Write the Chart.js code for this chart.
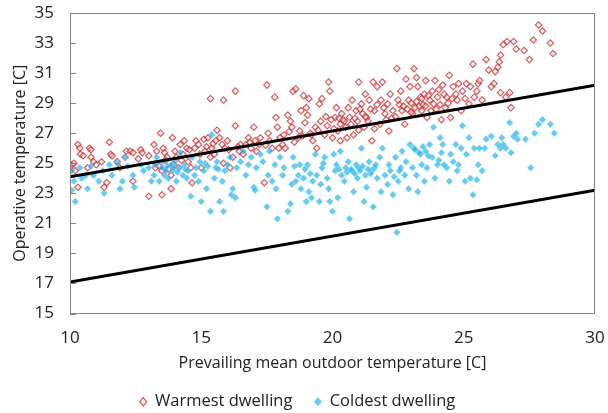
<!DOCTYPE html>
<html>
<head>
<meta charset="utf-8">
<script src="https://cdn.jsdelivr.net/npm/chart.js@4.4.1/dist/chart.umd.min.js"></script>
<style>
  html, body { margin: 0; padding: 0; background: #fff; }
  #wrap { width: 608px; height: 413px; }
</style>
</head>
<body>
<div id="wrap"><canvas id="c"></canvas></div>
<script>
// warmest dwelling: [outdoor, operative]
const warmest = [
  [10.07,24.9],[10.15,25.0],[10.0,24.7],[10.2,24.5],[10.3,26.25],[10.37,26.0],[10.4,25.6],[10.5,25.5],
  [10.3,23.4],[10.67,24.7],[10.74,26.0],[10.8,25.9],[10.8,25.4],[10.9,25.1],[11.0,24.9],[11.2,25.1],
  [11.3,23.4],[11.4,23.7],[11.5,26.4],[11.55,25.6],[11.6,25.5],[11.8,25.1],[11.9,24.7],[12.1,25.4],
  [12.15,25.8],[12.3,25.8],[12.4,25.7],[12.4,23.8],[12.6,25.3],[12.7,25.9],[12.75,25.7],[13.0,25.5],
  [13.0,22.8],[13.2,26.25],[13.25,24.7],[13.3,25.8],[13.4,24.8],[13.45,27.0],[13.5,24.5],[13.5,22.9],
  [13.55,26.0],[13.6,25.7],[13.7,25.4],[13.75,24.6],[13.85,24.2],[13.85,23.3],[13.9,26.7],[14.0,25.8],
  [14.05,25.4],[14.15,24.7],[14.2,26.25],[14.3,25.6],[14.35,26.5],[14.45,26.0],[14.5,25.1],[14.6,24.7],
  [14.65,23.7],[14.75,26.0],[14.8,26.5],[14.9,26.25],[14.95,25.6],[15.0,24.7],[15.1,26.6],[15.2,26.1],
  [15.25,26.7],[15.35,29.3],[15.35,25.4],[15.4,26.0],[15.5,25.6],[15.55,26.5],[15.6,27.2],[15.7,26.7],
  [15.8,26.25],[15.85,29.2],[15.85,25.0],[15.9,26.0],[16.0,26.5],[16.1,24.7],[16.2,25.4],[16.3,29.8],
  [16.3,27.5],[16.45,25.8],[16.5,26.25],[16.6,25.6],[16.7,26.25],[16.8,26.7],[16.9,26.0],[17.0,27.4],
  [17.05,26.5],[17.1,25.8],[17.2,26.25],[17.25,26.7],[17.4,23.7],[17.5,30.2],[17.55,27.0],[17.6,26.5],
  [17.7,26.0],[17.8,29.4],[17.85,28.05],[17.9,27.4],[18.0,26.7],[18.1,26.25],[18.15,26.9],[18.2,26.0],
  [18.3,28.2],[18.4,27.8],[18.45,27.4],[18.5,29.8],[18.6,29.95],[18.7,26.7],[18.75,27.15],[18.8,28.5],
  [18.9,29.5],[19.0,28.7],[19.05,28.2],[19.1,29.3],[19.2,26.9],[19.25,26.5],[19.35,27.4],[19.4,26.0],
  [19.5,28.95],[19.55,27.8],[19.6,29.3],[19.7,26.9],[19.8,27.5],[19.85,30.4],[19.9,29.8],[20.0,26.7],
  [20.1,28.05],[20.15,28.7],[20.2,27.15],[20.3,26.5],[20.35,28.3],[20.45,27.8],[20.5,27.4],[20.6,28.7],
  [20.65,28.05],[20.75,29.2],[20.8,26.9],[20.9,28.5],[20.95,27.8],[21.0,30.4],[21.1,28.95],[21.2,27.4],
  [21.25,29.6],[21.3,28.05],[21.4,29.2],[21.5,26.5],[21.55,30.4],[21.6,28.5],[21.7,30.1],[21.8,27.6],
  [21.85,29.2],[21.9,30.4],[22.0,28.3],[22.1,28.95],[22.15,27.15],[22.2,29.6],[22.3,28.5],[22.45,31.3],
  [22.5,29.2],[22.6,29.8],[22.65,28.5],[22.75,27.6],[22.8,30.6],[22.9,29.2],[22.95,30.1],[23.05,28.3],
  [23.1,31.3],[23.15,28.7],[23.2,30.7],[23.25,30.1],[23.35,29.4],[23.4,28.5],[23.5,29.6],[23.55,30.5],
  [23.6,28.05],[23.7,29.2],[23.8,29.8],[23.85,28.95],[23.9,30.5],[24.0,29.4],[24.15,27.9],[24.2,30.2],
  [24.3,28.7],[24.35,29.4],[24.45,30.85],[24.5,28.05],[24.6,30.1],[24.7,29.6],[24.75,29.2],[24.8,30.3],
  [24.9,28.5],[24.95,29.8],[25.05,29.3],[25.1,30.3],[25.2,28.95],[25.25,30.1],[25.35,31.6],[25.4,29.4],
  [25.5,29.8],[25.55,30.3],[25.6,30.5],[25.7,29.2],[25.85,31.9],[25.95,31.2],[26.05,30.1],[26.15,30.3],
  [26.2,31.1],[26.3,31.4],[26.35,31.75],[26.4,32.2],[26.4,29.7],[26.5,32.9],[26.6,29.4],[26.65,33.1],
  [26.75,29.7],[26.8,28.7],[26.9,33.1],[27.0,32.6],[27.3,32.5],[27.5,31.9],[27.65,33.2],[27.85,34.2],
  [28.0,33.8],[28.3,33.0],[28.4,32.3],
  [20.4,27.9],[20.7,27.6],[21.0,27.2],[21.15,28.3],[21.35,27.8],[21.45,28.6],[21.7,28.9],[22.05,27.9],
  [22.4,28.1],[22.55,28.9],[22.85,28.6],[23.0,29.0],[23.3,28.8],[23.45,28.9],[23.65,29.5],[23.95,28.6],
  [24.05,29.9],[24.4,29.0],[24.55,29.3],[19.95,27.9],[20.25,28.0],[20.55,26.7],[19.15,27.0],[18.85,26.8],
  [18.35,27.1],[18.95,27.7],[19.45,27.2],[19.75,28.1],[20.05,27.3],[20.3,27.6],[20.85,28.0],[21.05,28.6],
  [21.25,28.1],[21.6,27.3],[21.95,28.7],[22.25,28.0],[22.7,28.8],[23.0,28.4],[23.2,29.1],[23.4,29.3],
  [23.55,28.8],[23.75,28.5],[24.1,28.9],[24.25,29.6],[14.25,25.2],[14.55,25.9],[15.15,25.8],[15.45,26.3],
  [13.95,24.9],[13.65,25.2],[16.05,25.9],[16.4,26.1],[16.85,26.4],[17.45,26.2],[17.95,26.0],[18.55,26.4]
];

const coldest = [
  [10.07,24.5],[10.07,23.2],[10.15,23.8],[10.2,22.45],[10.37,24.7],[10.45,24.0],[10.6,24.2],[10.67,23.3],
  [10.8,24.8],[10.9,24.2],[11.1,23.8],[11.25,24.5],[11.3,23.0],[11.5,24.9],[11.6,24.2],[11.8,25.0],
  [11.9,23.3],[12.0,23.8],[12.1,25.4],[12.2,24.8],[12.4,24.2],[12.45,23.4],[12.7,24.9],[12.8,24.5],
  [13.0,24.7],[13.1,23.8],[13.2,24.2],[13.25,24.9],[13.3,25.4],[13.4,23.8],[13.5,24.7],[13.55,25.1],
  [13.6,24.2],[13.7,24.8],[13.75,24.0],[13.85,24.9],[13.9,24.5],[14.0,25.1],[14.05,23.8],[14.15,24.7],
  [14.2,25.7],[14.3,24.2],[14.35,24.9],[14.45,24.0],[14.5,24.5],[14.6,22.8],[14.65,25.4],[14.75,24.2],
  [14.8,24.7],[14.9,23.8],[14.95,25.1],[15.0,22.45],[15.1,24.5],[15.2,23.3],[15.25,24.8],[15.35,21.8],
  [15.4,26.9],[15.5,24.0],[15.55,24.7],[15.6,25.1],[15.7,22.45],[15.8,23.8],[15.85,21.8],[15.9,24.5],
  [16.0,24.9],[16.1,25.4],[16.15,22.9],[16.2,23.3],[16.3,22.7],[16.35,24.7],[16.5,25.1],[16.6,25.8],
  [16.7,24.2],[16.8,24.9],[16.9,25.4],[17.0,23.4],[17.05,23.2],[17.1,24.7],[17.25,25.6],[17.35,25.1],
  [17.5,22.1],[17.55,24.2],[17.6,25.8],[17.7,23.8],[17.8,24.9],[17.85,23.3],[17.9,21.3],[18.0,25.4],
  [18.1,24.2],[18.15,24.7],[18.3,21.8],[18.4,22.3],[18.45,23.6],[18.5,25.4],[18.6,23.8],[18.7,24.2],
  [18.75,24.9],[18.8,23.3],[18.9,24.0],[19.0,22.45],[19.05,24.9],[19.1,23.1],[19.2,22.7],[19.25,23.8],
  [19.35,25.6],[19.4,24.2],[19.5,22.45],[19.55,23.6],[19.6,24.7],[19.7,25.4],[19.8,24.0],[19.85,23.3],
  [19.9,22.45],[20.0,21.8],[20.1,24.5],[20.15,24.9],[20.2,22.7],[20.3,25.8],[20.35,24.2],[20.45,23.8],
  [20.5,24.7],[20.6,25.1],[20.65,21.3],[20.75,24.5],[20.8,23.1],[20.9,24.9],[20.95,24.0],[21.0,24.7],
  [21.1,26.0],[21.2,22.45],[21.25,24.2],[21.3,23.4],[21.4,25.1],[21.5,24.5],[21.55,22.1],[21.6,24.7],
  [21.7,24.0],[21.8,25.4],[21.85,23.1],[21.9,26.0],[22.0,24.2],[22.1,23.6],[22.15,24.9],[22.2,24.5],
  [22.3,22.9],[22.4,25.4],[22.45,20.4],[22.5,23.8],[22.6,24.7],[22.65,25.8],[22.75,24.2],[22.8,25.1],
  [22.9,23.3],[22.95,26.25],[23.05,24.7],[23.1,26.0],[23.2,24.2],[23.25,23.1],[23.35,25.6],[23.4,24.9],
  [23.5,23.8],[23.55,25.8],[23.6,24.7],[23.7,26.25],[23.8,25.4],[23.85,27.4],[23.9,24.0],[24.0,24.9],
  [24.1,26.7],[24.15,25.7],[24.2,26.25],[24.35,24.7],[24.45,23.8],[24.5,25.6],[24.6,25.1],[24.7,26.25],
  [24.75,24.5],[24.8,24.9],[24.9,26.0],[24.95,27.5],[25.05,23.8],[25.1,25.6],[25.2,26.7],[25.25,24.0],
  [25.35,22.9],[25.4,26.0],[25.5,23.9],[25.55,24.9],[25.6,26.0],[25.7,24.5],[25.8,26.0],[25.85,26.6],
  [26.05,26.8],[26.2,25.5],[26.3,26.25],[26.4,26.0],[26.45,26.7],[26.5,26.25],[26.6,26.0],[26.75,27.7],
  [26.8,25.7],[26.9,26.8],[27.0,27.0],[27.05,26.6],[27.35,26.6],[27.55,24.7],[27.7,27.0],[27.85,27.6],
  [28.0,27.9],[28.3,27.6],[28.45,27.0],
  [20.55,24.4],[20.7,24.6],[20.85,24.3],[21.05,24.5],[21.15,24.8],[21.35,24.6],[21.45,24.3],[21.65,24.9],
  [20.05,25.6],[20.25,24.6],[19.65,25.0],[19.15,24.3],[18.95,24.6],[18.55,24.8],[22.35,24.1],[22.55,24.5],
  [23.15,25.9],[23.3,25.7],[23.45,26.1],[23.65,25.5],[24.05,25.2],[24.25,24.9],[13.65,24.5],[13.95,24.7],
  [14.1,24.4],[14.4,24.6],[15.15,25.0],[15.65,24.6]
];

// comfort limits
const upperLine = [[10, 24.1], [30, 30.2]];
const lowerLine = [[10, 17.1], [30, 23.2]];

const xTicks = [10, 15, 20, 25, 30];
const yTicks = [15, 17, 19, 21, 23, 25, 27, 29, 31, 33, 35];

const toXY = arr => arr.map(p => ({ x: p[0], y: p[1] }));
const FONT = "'Open Sans', 'DejaVu Sans', sans-serif";

// plot frame + inside ticks on y axis
const frame = {
  id: 'frame',
  afterDraw(chart) {
    const { ctx, chartArea: a, scales } = chart;
    ctx.save();
    ctx.strokeStyle = '#858585';
    ctx.lineWidth = 1;
    ctx.strokeRect(Math.round(a.left) + 0.5, Math.round(a.top) + 0.5,
      Math.round(a.right - a.left) - 1, Math.round(a.bottom - a.top) - 1);
    yTicks.forEach(v => {
      const y = Math.round(scales.y.getPixelForValue(v)) + 0.5;
      ctx.beginPath();
      ctx.moveTo(a.left, y);
      ctx.lineTo(a.left + 6, y);
      ctx.stroke();
    });
    ctx.restore();
  }
};

new Chart(document.getElementById('c'), {
  type: 'scatter',
  data: {
    datasets: [
      {
        label: 'Warmest dwelling',
        data: toXY(warmest),
        pointStyle: 'rectRot',
        pointRadius: 3.2,
        borderWidth: 1.2,
        borderColor: 'rgba(205,30,35,0.72)',
        backgroundColor: 'rgba(255,235,235,0.35)',
        order: 2
      },
      {
        label: 'Coldest dwelling',
        data: toXY(coldest),
        pointStyle: 'rectRot',
        pointRadius: 3.2,
        borderWidth: 1,
        borderColor: 'rgba(110,205,245,0.75)',
        backgroundColor: 'rgba(20,175,235,0.65)',
        order: 1
      },
      {
        type: 'line',
        label: 'upper',
        data: toXY(upperLine),
        borderColor: '#000',
        borderWidth: 3,
        pointRadius: 0,
        order: 0
      },
      {
        type: 'line',
        label: 'lower',
        data: toXY(lowerLine),
        borderColor: '#000',
        borderWidth: 3,
        pointRadius: 0,
        order: 0
      }
    ]
  },
  options: {
    responsive: true,
    maintainAspectRatio: false,
    animation: false,
    layout: { padding: { top: 13, right: 13, left: 0, bottom: -7 } },
    plugins: {
      tooltip: { enabled: false },
      legend: {
        position: 'bottom',
        labels: {
          filter: item => item.datasetIndex < 2,
          sort: (a, b) => a.datasetIndex - b.datasetIndex,
          usePointStyle: true,
          pointStyleWidth: 7,
          boxHeight: 6,
          padding: 22,
          color: '#222',
          font: { family: FONT, size: 16.5 }
        }
      }
    },
    scales: {
      x: {
        type: 'linear',
        min: 10, max: 30,
        afterBuildTicks: s => { s.ticks = xTicks.map(v => ({ value: v })); },
        afterFit: s => { s.height = 58; s.paddingLeft = 0; s.paddingRight = 0; },
        grid: { display: false, drawTicks: false },
        border: { display: false },
        ticks: { padding: 14, color: '#222', font: { family: FONT, size: 17 } },
        title: {
          display: true,
          text: 'Prevailing mean outdoor temperature [C]',
          color: '#222',
          font: { family: FONT, size: 16 },
          padding: { top: 0, bottom: -2 }
        }
      },
      y: {
        min: 15, max: 35,
        afterBuildTicks: s => { s.ticks = yTicks.map(v => ({ value: v })); },
        afterFit: s => { s.width = 70; s.paddingTop = 0; s.paddingBottom = 0; },
        grid: { display: false, drawTicks: false },
        border: { display: false },
        ticks: { padding: 16, color: '#222', font: { family: FONT, size: 17 } },
        title: {
          display: true,
          text: 'Operative temperature [C]',
          color: '#222',
          font: { family: FONT, size: 16 },
          padding: { top: 11, bottom: 0 }
        }
      }
    }
  },
  plugins: [frame]
});
</script>
</body>
</html>
